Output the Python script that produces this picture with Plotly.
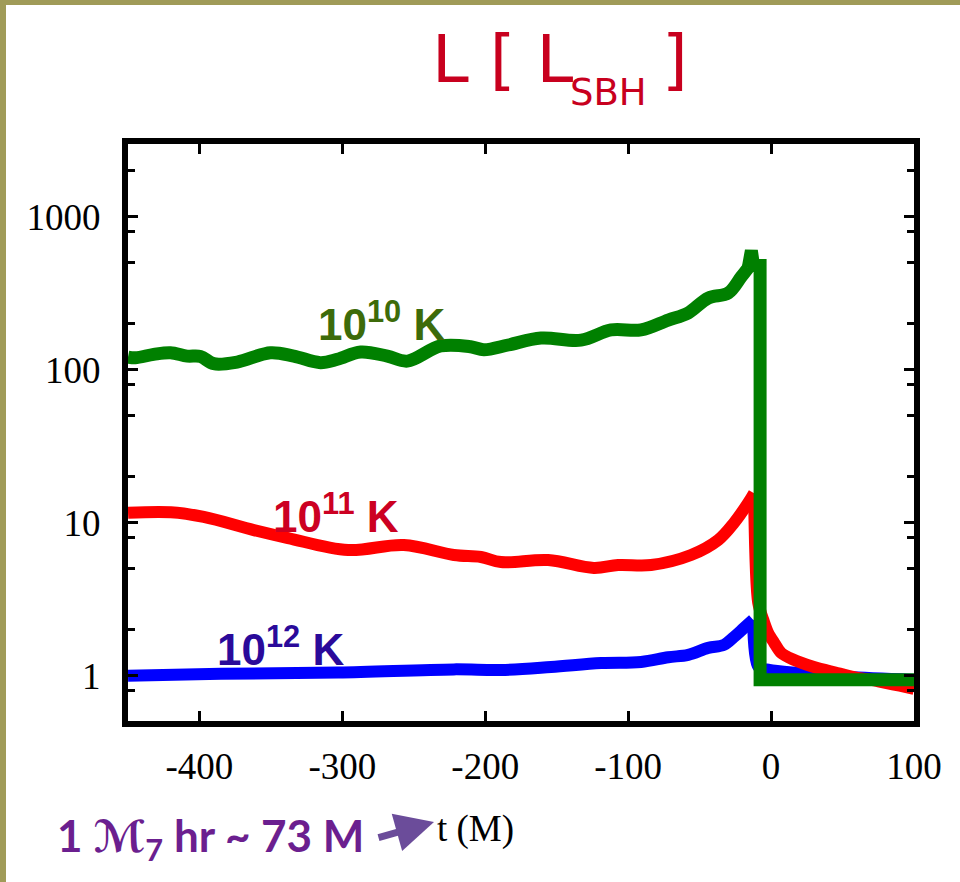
import plotly.graph_objects as go

# Luminosity light curves (in units of L_SBH) versus time t (M)
t_green = [-450, -444.8, -432, -420.3, -408.6, -399.3, -390, -373.6, -350.3, -334,
           -315.3, -303.5, -287.2, -268.5, -254.5, -231.2, -210.2, -201, -184,
           -161, -133, -112, -91, -72, -58, -44, -30, -21, -16, -13.8, -12.3, -7.7,
           -7.7, 100]
L_green = [121, 119.7, 125.9, 129, 122.7, 122, 109.4, 112.2, 129, 122.7,
           111.2, 117, 130.6, 122.7, 113.8, 142.9, 141.3, 135, 145,
           161, 156, 182, 182, 211, 235, 294, 317, 403, 463, 600, 480, 480,
           0.94, 0.94]

t_red = [-450, -420, -397, -362, -338, -296, -257, -222, -203, -189, -156, -124,
         -107, -84, -56, -37, -26, -16, -11.9, -9, -5, -2, 2, 7, 15, 30, 45, 58,
         75, 90, 100]
L_red = [11.6, 11.7, 10.9, 8.95, 7.94, 6.63, 7.15, 6.15, 5.97, 5.53, 5.70, 5.06,
         5.29, 5.29, 6.15, 7.71, 9.96, 13.5, 15.6, 3.0, 2.25, 1.9, 1.65, 1.41, 1.28,
         1.14, 1.05, 0.98, 0.92, 0.86, 0.82]

t_blue = [-450, -385, -303, -222, -189, -154, -119, -91, -72, -58, -44, -33,
          -26, -19, -12.6, -9, -1.4, 19, 54, 100]
L_blue = [1.0, 1.03, 1.05, 1.10, 1.09, 1.14, 1.21, 1.23, 1.32, 1.37, 1.52, 1.59,
          1.79, 2.05, 2.32, 1.15, 1.09, 1.04, 0.98, 0.94]

# index of the last smoothly-varying sample before the sudden drop
split_green = t_green.index(-16)
split_red = t_red.index(-11.9)
split_blue = t_blue.index(-12.6)

y_tick_vals = [1, 10, 100, 1000]
y_tick_text = ["1", "10", "100", "1000"]
y_minor_vals = [0.8, 2, 5, 8, 20, 50, 80, 200, 500, 800, 2000]
x_tick_vals = [-400, -300, -200, -100, 0, 100]
x_tick_text = ["-400", "-300", "-200", "-100", "0", "100"]

W, H = 960, 882
ML, MR, MT, MB = 128, 46, 144, 161
PW, PH = W - ML - MR, H - MT - MB


def px(x):
    return (x - ML) / PW


def py(y):
    return (H - MB - y) / PH


def add_curve(fig, t, L, k, color, width, smooth_after):
    # smooth rise up to the peak, then the drop and the decay
    fig.add_trace(go.Scatter(x=t[:k + 1], y=L[:k + 1], mode="lines",
                             line=dict(color=color, width=width, shape="spline", smoothing=1.0),
                             hoverinfo="skip"))
    fig.add_trace(go.Scatter(x=t[k:], y=L[k:], mode="lines",
                             line=dict(color=color, width=width,
                                       shape="spline" if smooth_after else "linear",
                                       smoothing=0.8),
                             hoverinfo="skip"))


fig = go.Figure()
add_curve(fig, t_blue, L_blue, split_blue, "#0000ff", 12, True)
add_curve(fig, t_red, L_red, split_red, "#ff0000", 12, True)
add_curve(fig, t_green, L_green, split_green, "#008000", 13, False)

serif = "Liberation Serif, Times New Roman, serif"
axis_common = dict(showline=True, linewidth=6, linecolor="black", mirror="ticks",
                   ticks="inside", ticklen=10, tickwidth=3, tickcolor="black",
                   showgrid=False, zeroline=False,
                   tickfont=dict(family=serif, size=37, color="black"))

fig.update_xaxes(range=[-450, 100], tickmode="array", tickvals=x_tick_vals,
                 ticktext=x_tick_text, ticklabelstandoff=8, **axis_common)
fig.update_yaxes(type="log", range=[-0.296, 3.475], tickmode="array",
                 tickvals=y_tick_vals, ticktext=y_tick_text, ticklabelstandoff=14,
                 minor=dict(tickmode="array", tickvals=y_minor_vals, ticks="inside",
                            ticklen=7, tickwidth=3, tickcolor="black", showgrid=False),
                 **axis_common)

red_title = "#c8001e"
annotations = [
    # panel title
    dict(x=px(430), y=py(60), xref="paper", yref="paper", text="L [ L",
         xanchor="left", yanchor="middle", showarrow=False,
         font=dict(family="DejaVu Sans", size=66, color=red_title)),
    dict(x=px(568), y=py(92), xref="paper", yref="paper", text="SBH",
         xanchor="left", yanchor="middle", showarrow=False,
         font=dict(family="DejaVu Sans", size=37, color=red_title)),
    dict(x=px(690), y=py(60), xref="paper", yref="paper", text="]",
         xanchor="right", yanchor="middle", showarrow=False,
         font=dict(family="DejaVu Sans", size=66, color=red_title)),
    # curve labels
    dict(x=-272.5, y=2.318, xref="x", yref="y", text="<b>10<sup>10</sup> K</b>",
         showarrow=False, xanchor="center", yanchor="middle",
         font=dict(family="Liberation Sans, Arial", size=44, color="#3d6b0a")),
    dict(x=-304.7, y=1.063, xref="x", yref="y", text="<b>10<sup>11</sup> K</b>",
         showarrow=False, xanchor="center", yanchor="middle",
         font=dict(family="Liberation Sans, Arial", size=44, color="#cc0022")),
    dict(x=-343.3, y=0.194, xref="x", yref="y", text="<b>10<sup>12</sup> K</b>",
         showarrow=False, xanchor="center", yanchor="middle",
         font=dict(family="Liberation Sans, Arial", size=44, color="#2a0a9a")),
    # axis title
    dict(x=px(475), y=py(829), xref="paper", yref="paper", text="t (M)",
         showarrow=False, xanchor="center", yanchor="middle",
         font=dict(family=serif, size=37, color="black")),
    # time-unit note with arrow
    dict(x=px(55), y=py(838), xref="paper", yref="paper",
         text="<b>1 ℳ<sub>7</sub> hr ~ 73 M</b>",
         showarrow=False, xanchor="left", yanchor="middle",
         font=dict(family="Lato, DejaVu Sans", size=44, color="#6b1f8f")),
    dict(x=px(434), y=py(822), xref="paper", yref="paper", text="",
         showarrow=True, ax=-57, ay=16, axref="pixel", ayref="pixel",
         arrowhead=2, arrowsize=1.1, arrowwidth=7, arrowcolor="#6b4c9a", standoff=0),
]

olive = "#a09b58"
shapes = [
    dict(type="rect", xref="paper", yref="paper", x0=px(0), x1=px(W), y0=py(0), y1=py(5),
         fillcolor=olive, line=dict(width=0), layer="below"),
    dict(type="rect", xref="paper", yref="paper", x0=px(0), x1=px(6), y0=py(0), y1=py(H),
         fillcolor=olive, line=dict(width=0), layer="below"),
]

fig.update_layout(width=W, height=H, margin=dict(l=ML, r=MR, t=MT, b=MB),
                  paper_bgcolor="white", plot_bgcolor="white", showlegend=False,
                  annotations=annotations, shapes=shapes)

fig.write_html("out.html")
